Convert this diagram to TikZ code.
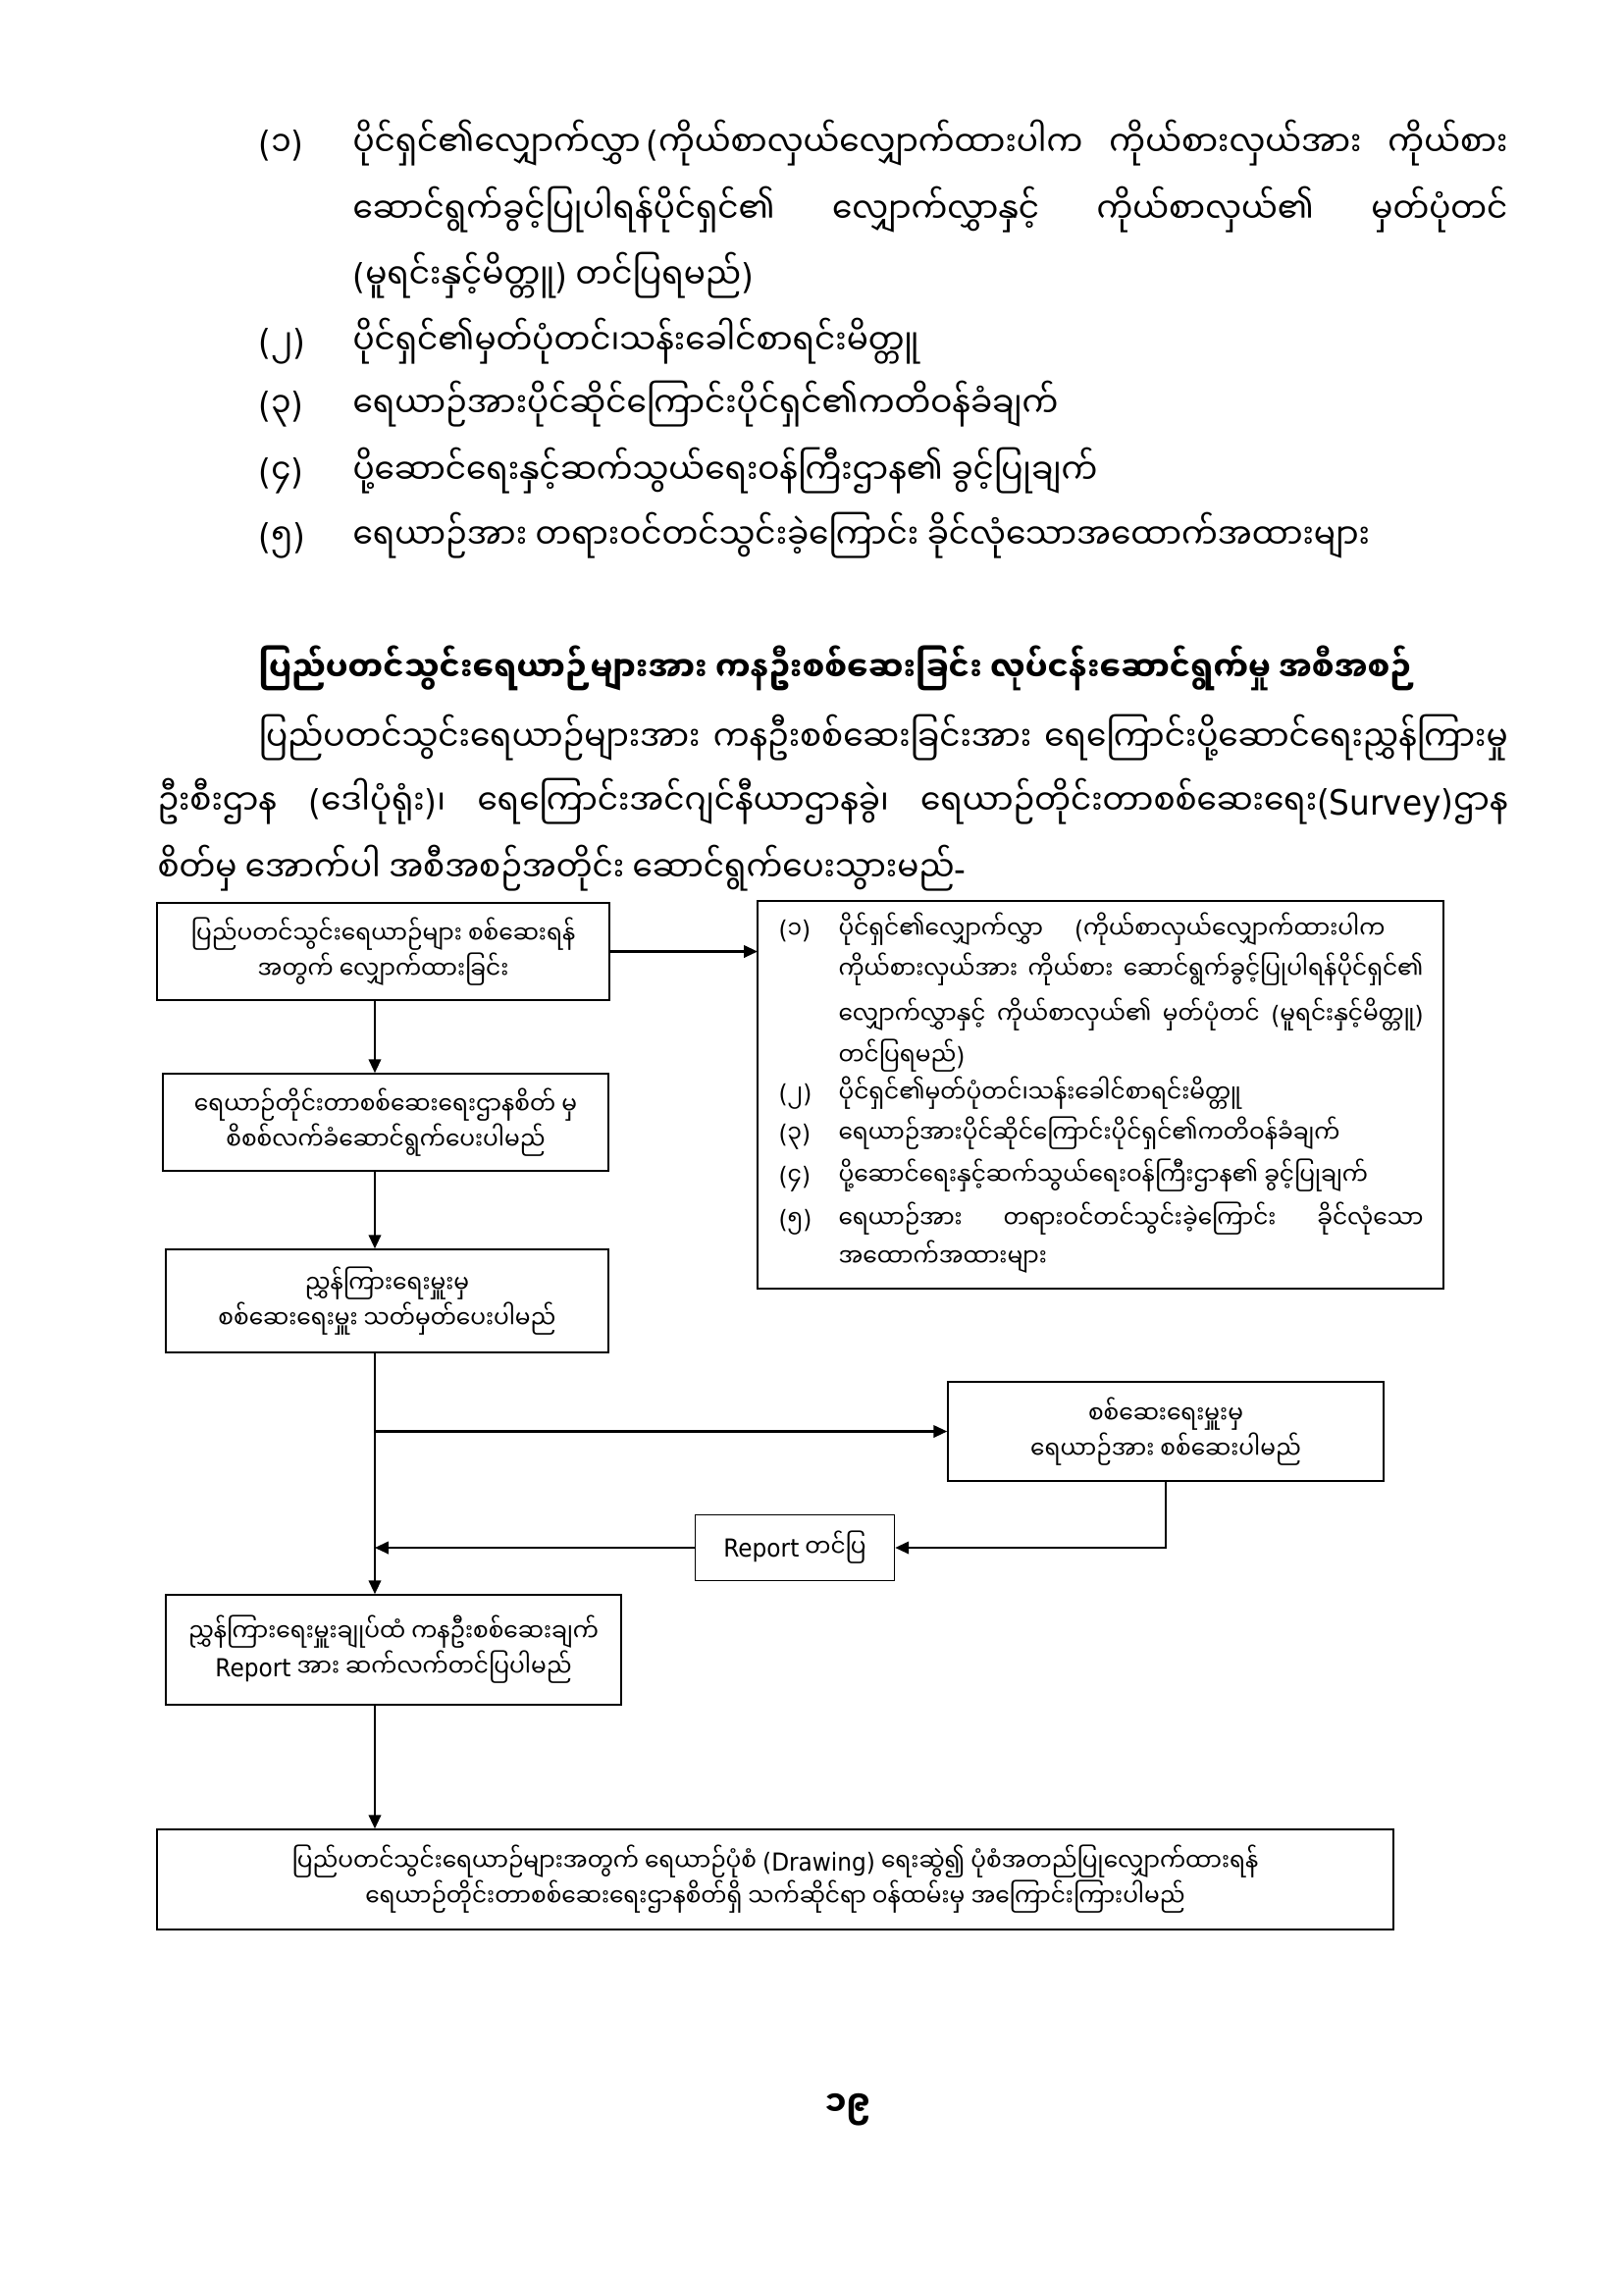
\documentclass[tikz,border=0pt]{standalone}
\usepackage{fontspec}
\setmainfont{Noto Sans Myanmar UI}[Script=Myanmar, FakeStretch=0.92]
\newfontfamily\latf{DejaVu Sans}[FakeStretch=0.92]
\newcommand\lat[1]{{\latf #1}}
\newcommand\LP{{\latf(}}
\newcommand\RP{{\latf)}}
\newcommand\HY{{\latf-}}
\usetikzlibrary{arrows.meta}
\newcommand\J[2]{\makebox[#1][s]{#2}}
\tikzset{
  box/.style={draw, line width=0.55pt, inner sep=0pt, align=center,
    font=\fontsize{9.1}{13}\selectfont},
  arr/.style={line width=0.75pt, -{Triangle[length=5pt,width=4.5pt]}},
  ln/.style={anchor=mid west, inner sep=0pt, yshift=-3.2pt, font=\fontsize{12.8}{20}\selectfont},
  hd/.style={anchor=mid west, inner sep=0pt, yshift=-3.2pt, font=\bfseries\fontsize{12.5}{20}\selectfont},
  bl/.style={anchor=mid west, inner sep=0pt, font=\fontsize{9.1}{12}\selectfont},
}
\begin{document}
\begin{tikzpicture}[x=0.36pt,y=-0.36pt]
\path[use as bounding box, fill=white] (0,0) rectangle (1654,2316);
% top list
\node[ln] (n1) at (263,143) {\LP၁\RP};
\node[ln] (n1a) at (359,143) {\J{423.7pt}{ပိုင်ရှင်၏လျှောက်လွှာ\hspace{2pt}\LP ကိုယ်စာလှယ်လျှောက်ထားပါက ကိုယ်စားလှယ်အား ကိုယ်စား}};
\node[ln] (n1b) at (359,211) {\J{423.7pt}{ဆောင်ရွက်ခွင့်ပြုပါရန်ပိုင်ရှင်၏ လျှောက်လွှာနှင့် ကိုယ်စာလှယ်၏ မှတ်ပုံတင်}};
\node[ln] (n1c) at (359,278) {\LP မူရင်းနှင့်မိတ္တူ\RP{} တင်ပြရမည်\RP};
\node[ln] (n2) at (263,345) {\LP၂\RP};
\node[ln] (n2a) at (359,345) {ပိုင်ရှင်၏မှတ်ပုံတင်၊သန်းခေါင်စာရင်းမိတ္တူ};
\node[ln] (n3) at (263,409) {\LP၃\RP};
\node[ln] (n3a) at (359,409) {ရေယာဉ်အားပိုင်ဆိုင်ကြောင်းပိုင်ရှင်၏ကတိဝန်ခံချက်};
\node[ln] (n4) at (263,477) {\LP၄\RP};
\node[ln] (n4a) at (359,477) {ပို့ဆောင်ရေးနှင့်ဆက်သွယ်ရေးဝန်ကြီးဌာန၏ ခွင့်ပြုချက်};
\node[ln] (n5) at (263,543) {\LP၅\RP};
\node[ln] (n5a) at (359,543) {ရေယာဉ်အား တရားဝင်တင်သွင်းခဲ့ကြောင်း ခိုင်လုံသောအထောက်အထားများ};
% heading and paragraph
\node[hd] (hd) at (263,678) {ပြည်ပတင်သွင်းရေယာဉ်များအား ကနဦးစစ်ဆေးခြင်း လုပ်ငန်းဆောင်ရွက်မှု အစီအစဉ်};
\node[ln] (p1) at (263,749) {\J{458.3pt}{ပြည်ပတင်သွင်းရေယာဉ်များအား ကနဦးစစ်ဆေးခြင်းအား ရေကြောင်းပို့ဆောင်ရေးညွှန်ကြားမှု}};
\node[ln] (p2) at (160,814) {\J{495.4pt}{ဦးစီးဌာန \LP ဒေါပုံရုံး\RP၊ ရေကြောင်းအင်ဂျင်နီယာဌာနခွဲ၊ ရေယာဉ်တိုင်းတာစစ်ဆေးရေး\LP\lat{Survey}\RP ဌာန}};
\node[ln] (p3) at (160,882) {စိတ်မှ အောက်ပါ အစီအစဉ်အတိုင်း ဆောင်ရွက်ပေးသွားမည်\HY};
% flowchart boxes
\node[box, minimum width={461*0.36pt}, minimum height={99*0.36pt}] (b1) at (390.5,969.5)
  {ပြည်ပတင်သွင်းရေယာဉ်များ စစ်ဆေးရန်\\အတွက် လျှောက်ထားခြင်း};
\draw[line width=0.55pt] (772,918) rectangle (1471,1313);
\coordinate (b2w) at (772,965);
\node[box, minimum width={454*0.36pt}, minimum height={99*0.36pt}] (b3) at (393,1143.5)
  {ရေယာဉ်တိုင်းတာစစ်ဆေးရေးဌာနစိတ် မှ\\စိစစ်လက်ခံဆောင်ရွက်ပေးပါမည်};
\node[box, minimum width={451*0.36pt}, minimum height={105*0.36pt}] (b4) at (394.5,1325.5)
  {ညွှန်ကြားရေးမှူးမှ\\စစ်ဆေးရေးမှူး သတ်မှတ်ပေးပါမည်};
\node[box, minimum width={444*0.36pt}, minimum height={101*0.36pt}] (b5) at (1188,1458.5)
  {စစ်ဆေးရေးမှူးမှ\\ရေယာဉ်အား စစ်ဆေးပါမည်};
\node[box, minimum width={203*0.36pt}, minimum height={67*0.36pt}] (b6) at (810,1577)
  {\lat{Report} တင်ပြ};
\node[box, minimum width={464*0.36pt}, minimum height={112*0.36pt}] (b7) at (401,1681)
  {ညွှန်ကြားရေးမှူးချုပ်ထံ ကနဦးစစ်ဆေးချက်\\\lat{Report} အား ဆက်လက်တင်ပြပါမည်};
\node[box, minimum width={1260*0.36pt}, minimum height={102*0.36pt}] (b8) at (790,1915)
  {ပြည်ပတင်သွင်းရေယာဉ်များအတွက် ရေယာဉ်ပုံစံ \LP\lat{Drawing}\RP{} ရေးဆွဲ၍ ပုံစံအတည်ပြုလျှောက်ထားရန်\\ရေယာဉ်တိုင်းတာစစ်ဆေးရေးဌာနစိတ်ရှိ သက်ဆိုင်ရာ ဝန်ထမ်းမှ အကြောင်းကြားပါမည်};
% list inside the right box
\node[bl] (c1) at (793,949) {\LP၁\RP};
\node[bl] (c1a) at (854,949) {\J{200.5pt}{ပိုင်ရှင်၏လျှောက်လွှာ \LP ကိုယ်စာလှယ်လျှောက်ထားပါက}};
\node[bl] (c1b) at (854,990) {\J{214.6pt}{ကိုယ်စားလှယ်အား ကိုယ်စား ဆောင်ရွက်ခွင့်ပြုပါရန်ပိုင်ရှင်၏}};
\node[bl] (c1c) at (854,1036) {\J{214.6pt}{လျှောက်လွှာနှင့် ကိုယ်စာလှယ်၏ မှတ်ပုံတင် \LP မူရင်းနှင့်မိတ္တူ\RP}};
\node[bl] (c1d) at (854,1078) {တင်ပြရမည်\RP};
\node[bl] (c2) at (793,1116) {\LP၂\RP};
\node[bl] (c2a) at (854,1116) {ပိုင်ရှင်၏မှတ်ပုံတင်၊သန်းခေါင်စာရင်းမိတ္တူ};
\node[bl] (c3) at (793,1157) {\LP၃\RP};
\node[bl] (c3a) at (854,1157) {ရေယာဉ်အားပိုင်ဆိုင်ကြောင်းပိုင်ရှင်၏ကတိဝန်ခံချက်};
\node[bl] (c4) at (793,1200) {\LP၄\RP};
\node[bl] (c4a) at (854,1200) {ပို့ဆောင်ရေးနှင့်ဆက်သွယ်ရေးဝန်ကြီးဌာန၏ ခွင့်ပြုချက်};
\node[bl] (c5) at (793,1244) {\LP၅\RP};
\node[bl] (c5a) at (854,1244) {\J{214.6pt}{ရေယာဉ်အား တရားဝင်တင်သွင်းခဲ့ကြောင်း ခိုင်လုံသော}};
\node[bl] (c5b) at (854,1283) {အထောက်အထားများ};
% connectors
\coordinate (mx) at (382,0);
\draw[arr] (b1.east) -- (b1.east -| b2w);
\draw[arr] (b1.south -| mx) -- (b3.north -| mx);
\draw[arr] (b3.south -| mx) -- (b4.north -| mx);
\draw[arr] (b4.south -| mx) -- (b7.north -| mx);
\draw[arr] (b5.west -| mx) -- (b5.west);
\draw[arr] (b5.south) |- (b6.east);
\draw[arr] (b6.west) -- (b6.west -| mx);
\draw[arr] (b7.south -| mx) -- (b8.north -| mx);
% page number
\node[ln, anchor=center, font=\bfseries\fontsize{12.8}{20}\selectfont] (pg) at (864,2141) {၁၉};
\end{tikzpicture}
\end{document}
